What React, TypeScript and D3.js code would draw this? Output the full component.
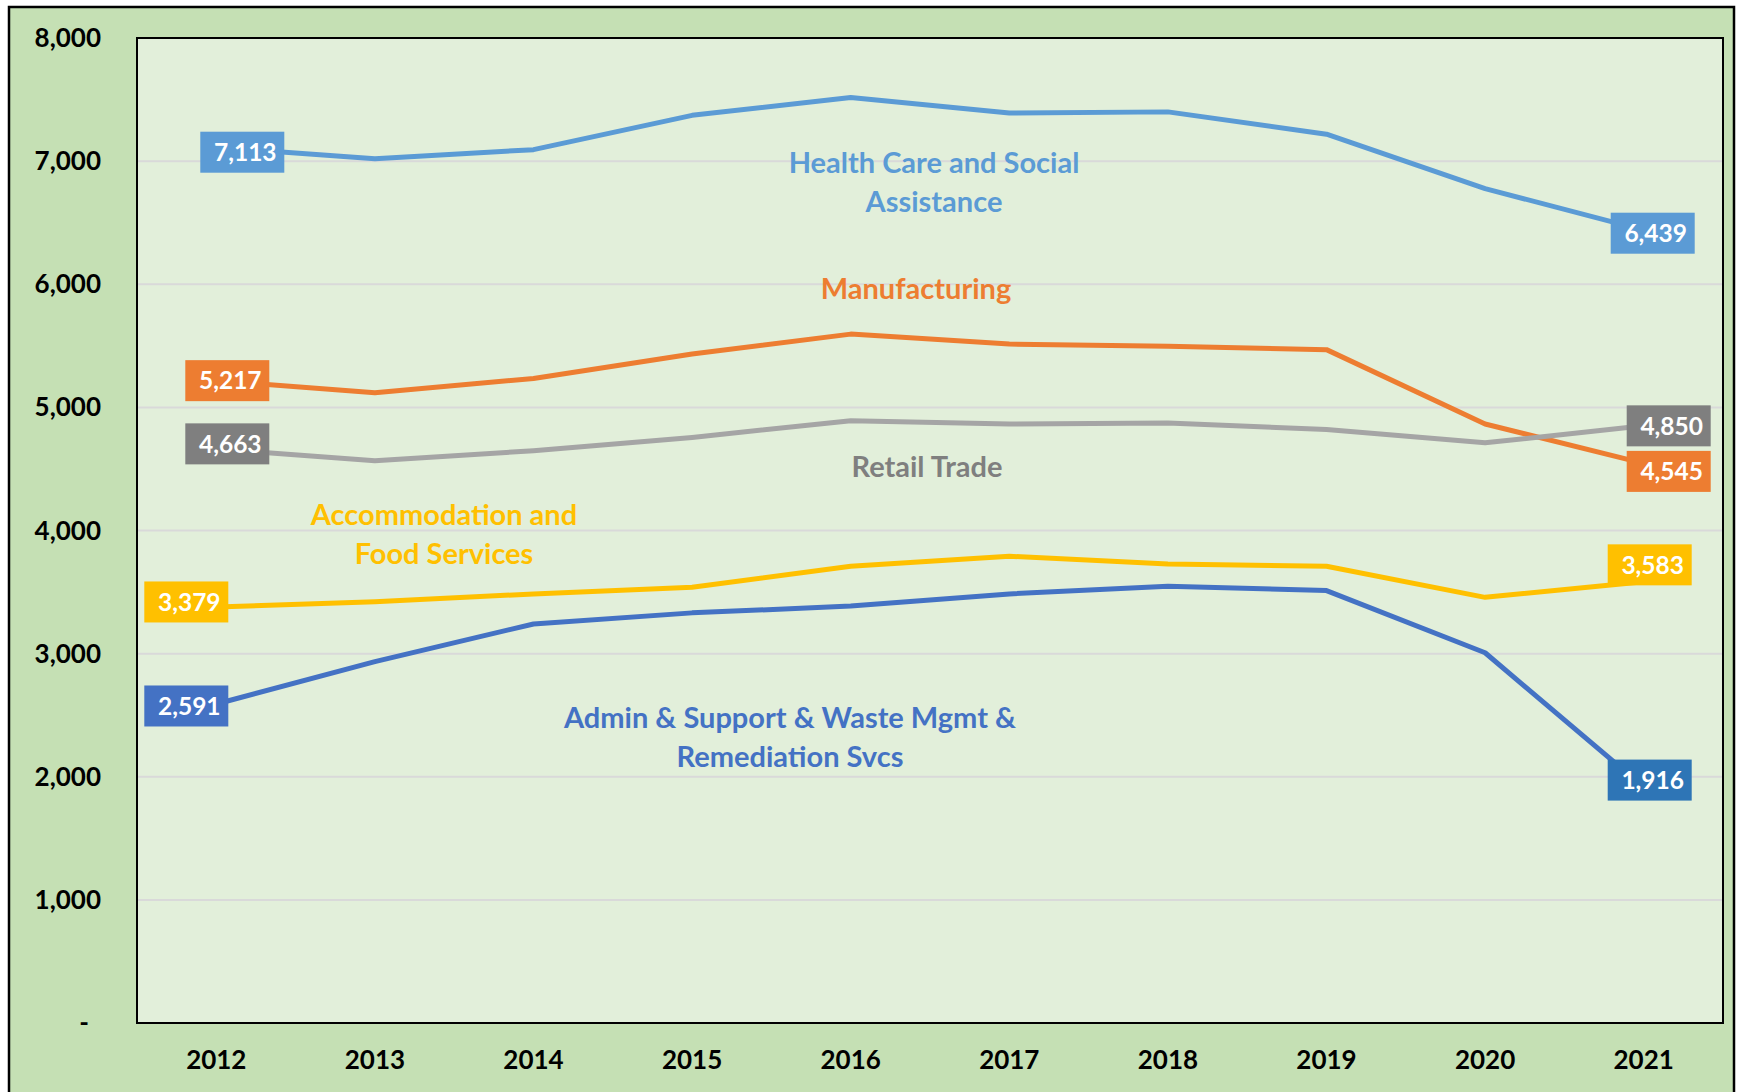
import React from "react";
import * as d3 from "d3";

const years = ["2012","2013","2014","2015","2016","2017","2018","2019","2020","2021"];
const healthCare = [7113, 7020, 7093, 7372, 7517, 7390, 7400, 7219, 6777, 6439];
const manufacturing = [5217, 5118, 5235, 5433, 5595, 5514, 5496, 5469, 4865, 4545];
const retailTrade = [4663, 4567, 4648, 4756, 4892, 4865, 4874, 4820, 4712, 4850];
const accommodation = [3379, 3422, 3485, 3539, 3710, 3791, 3728, 3710, 3457, 3583];
const adminSupport = [2591, 2935, 3241, 3331, 3386, 3485, 3548, 3512, 3007, 1916];
const yTicks = [0, 1000, 2000, 3000, 4000, 5000, 6000, 7000, 8000];

const series = [
  { name: ["Health Care and Social", "Assistance"], values: healthCare, color: "#5B9BD5", text: "#5B9BD5",
    boxFirst: "#5B9BD5", boxLast: "#5B9BD5", nameX: 934, nameY: 6985, first: [26, 5], last: [9, 3] },
  { name: ["Manufacturing"], values: manufacturing, color: "#ED7D31", text: "#ED7D31",
    boxFirst: "#ED7D31", boxLast: "#ED7D31", nameX: 916, nameY: 5960, first: [11, 0], last: [25, 8] },
  { name: ["Retail Trade"], values: retailTrade, color: "#A5A5A5", text: "#7F7F7F",
    boxFirst: "#7F7F7F", boxLast: "#7F7F7F", nameX: 927, nameY: 4520, first: [11, -5], last: [25, 0] },
  { name: ["Accommodation and", "Food Services"], values: accommodation, color: "#FFC000", text: "#FFC000",
    boxFirst: "#FFC000", boxLast: "#FFC000", nameX: 444, nameY: 4130, first: [-30, -5], last: [6, -17] },
  { name: ["Admin & Support & Waste Mgmt &", "Remediation Svcs"], values: adminSupport, color: "#4472C4", text: "#4472C4",
    boxFirst: "#4472C4", boxLast: "#2E75B6", nameX: 790, nameY: 2475, first: [-30, 2], last: [6, -7] },
];

const W = 1741, H = 1092;
const plot = { left: 137, right: 1723, top: 38, bottom: 1023 };
const FONT = "Lato, 'Open Sans', sans-serif";

export default function App() {
  const x = d3.scaleBand().domain(years).range([plot.left, plot.right]);
  const y = d3.scaleLinear().domain([0, 8000]).range([plot.bottom, plot.top]);
  const cx = (yr: string) => (x(yr) as number) + x.bandwidth() / 2;
  const line = d3.line<number>().x((_, i) => cx(years[i])).y((v) => y(v));
  const fmt = d3.format(",");
  const boxW = 84, boxH = 41;

  return (
    <div style={{ position: "absolute", left: 0, top: 0 }}>
      <svg width={W} height={H} style={{ display: "block" }}>
        <rect x={0} y={0} width={W} height={H} fill="#ffffff" />
        <rect x={9} y={7} width={1725} height={1100} fill="#C5E0B4" stroke="#000" strokeWidth={2.5} />
        <rect x={plot.left} y={plot.top} width={plot.right - plot.left} height={plot.bottom - plot.top} fill="#E2EFDA" />
        {yTicks.filter((t) => t > 0 && t < 8000).map((t) => (
          <line key={t} x1={plot.left} x2={plot.right} y1={y(t)} y2={y(t)} stroke="#D9D9D9" strokeWidth={2} />
        ))}
        <rect x={plot.left} y={plot.top} width={plot.right - plot.left} height={plot.bottom - plot.top} fill="none" stroke="#000" strokeWidth={2} />
        {yTicks.map((t) => (
          <text key={t} x={t === 0 ? 89 : 101} y={y(t)} dy="0.35em" textAnchor="end" fontFamily={FONT}
            fontWeight={700} fontSize={26} fill="#000">{t === 0 ? "-" : fmt(t)}</text>
        ))}
        {years.map((yr) => (
          <text key={yr} x={cx(yr)} y={1060} dy="0.35em" textAnchor="middle" fontFamily={FONT}
            fontWeight={700} fontSize={26} fill="#000">{yr}</text>
        ))}
        {series.map((s, si) => (
          <path key={"l" + si} d={line(s.values) || ""} fill="none" stroke={s.color} strokeWidth={5}
            strokeLinejoin="round" />
        ))}
        {series.map((s, si) => (
          <g key={"n" + si}>
            {s.name.map((ln, li) => (
              <text key={li} x={s.nameX} y={y(s.nameY) + li * 39} dy="0.35em" textAnchor="middle"
                fontFamily={FONT} fontWeight={700} fontSize={29} fill={s.text}>{ln}</text>
            ))}
          </g>
        ))}
        {series.map((s, si) => {
          const pts = [
            { i: 0, off: s.first, fill: s.boxFirst },
            { i: years.length - 1, off: s.last, fill: s.boxLast },
          ];
          return (
            <g key={"b" + si}>
              {pts.map((p) => {
                const px = cx(years[p.i]) + p.off[0];
                const py = y(s.values[p.i]) + p.off[1];
                return (
                  <g key={p.i}>
                    <rect x={px - boxW / 2} y={py - boxH / 2} width={boxW} height={boxH} fill={p.fill} />
                    <text x={px + 3} y={py} dy="0.36em" textAnchor="middle" fontFamily={FONT}
                      fontWeight={700} fontSize={24.5} fill="#fff">{fmt(s.values[p.i])}</text>
                  </g>
                );
              })}
            </g>
          );
        })}
      </svg>
    </div>
  );
}
